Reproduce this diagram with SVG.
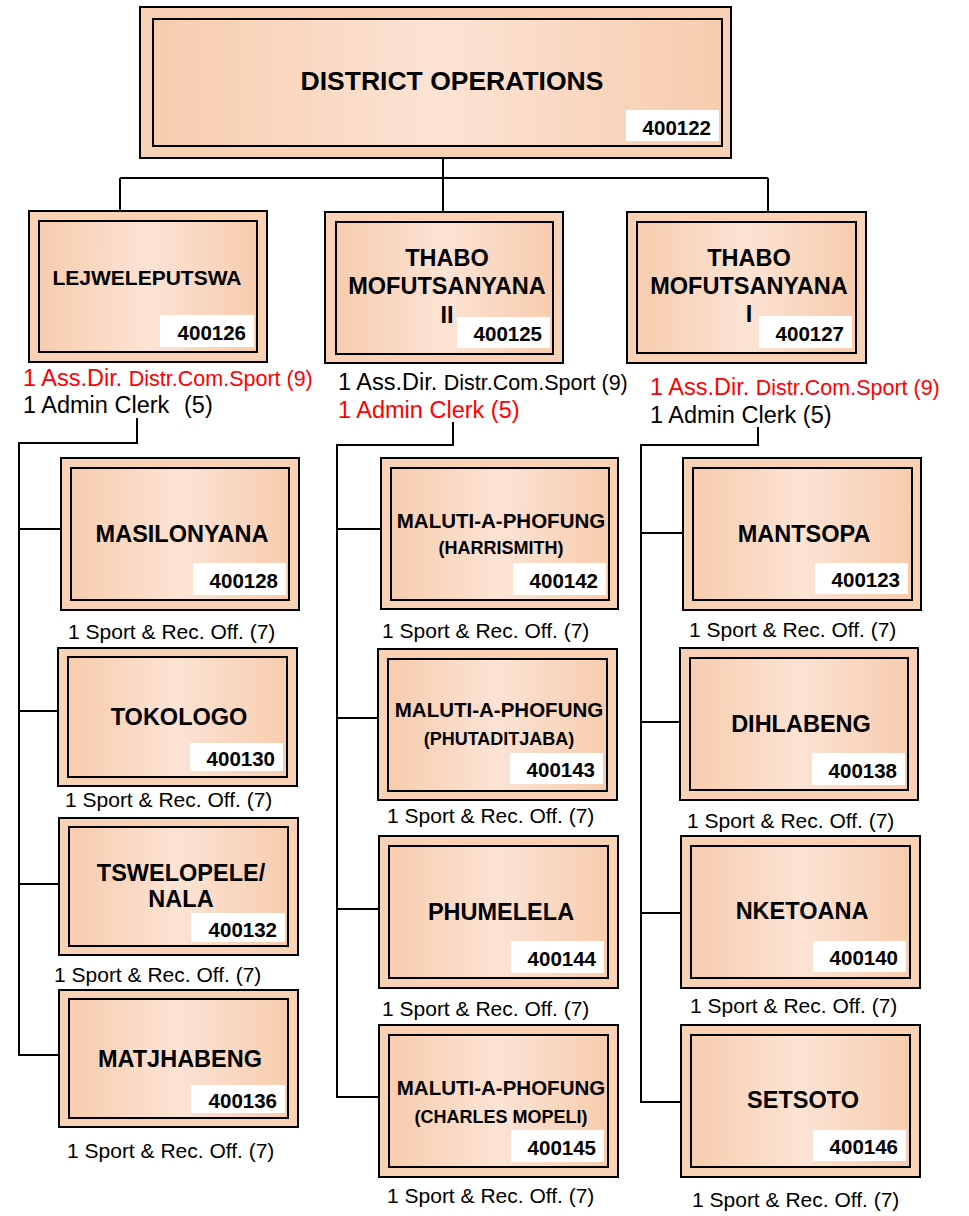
<svg xmlns="http://www.w3.org/2000/svg" width="969" height="1216" viewBox="0 0 969 1216">
<defs>
<linearGradient id="g" x1="0" y1="0" x2="1" y2="0">
<stop offset="0" stop-color="#F7CCAE"/>
<stop offset="0.5" stop-color="#FCE3D4"/>
<stop offset="1" stop-color="#F7CCAE"/>
</linearGradient>
<style>
.o{fill:#F9D2B6;stroke:#000;stroke-width:2}
.i{fill:url(#g);stroke:#000;stroke-width:2}
.c{fill:#fff}
text{font-family:"Liberation Sans",Arial,sans-serif;fill:#000}
.l{font-weight:bold;text-anchor:middle;font-size:23.5px}
.l2{font-weight:bold;text-anchor:middle;font-size:21px}
.l3{font-weight:bold;text-anchor:middle;font-size:23.5px}
.m{font-weight:bold;text-anchor:middle;font-size:20.5px}
.s{font-weight:bold;text-anchor:middle;font-size:18px}
.k{font-weight:bold;text-anchor:end;font-size:20.5px}
.t{font-size:21px}
.a{font-size:23.5px}
.r{fill:#FF0000}
.sm{font-size:21.5px}
.cn{fill:none;stroke:#000;stroke-width:2}
</style>
</defs>
<g id="connectors" class="cn">
<path d="M443,158 V178 M120,178 H768 M120,178 V211 M443,178 V212 M768,178 V212"/>
<path d="M137,418 V443 H19 V1055 H59 M19,529 H61 M19,711 H58 M19,884 H59"/>
<path d="M453,422 V445 H337 V1097 H379 M337,529 H381 M337,718 H378 M337,909 H379"/>
<path d="M758,427 V445 H641 V1102 H681 M641,533 H683 M641,722 H680 M641,913 H681"/>
</g>
<g id="n400122">
<rect class="o" x="140" y="7" width="591" height="151"/>
<rect class="i" x="153" y="19" width="569" height="127"/>
<rect class="c" x="626" y="110" width="93" height="31"/>
<text class="l" x="452" y="90" style="font-size:26.5px">DISTRICT OPERATIONS</text>
<text class="k" x="711" y="135">400122</text>
</g>
<g id="n400126">
<rect class="o" x="29" y="211" width="238" height="151"/>
<rect class="i" x="39" y="221" width="218" height="131"/>
<rect class="c" x="160" y="315" width="94" height="32"/>
<text class="l2" x="147" y="285">LEJWELEPUTSWA</text>
<text class="k" x="246" y="340">400126</text>
<text class="a r" x="23" y="386">1 Ass.Dir. <tspan class="sm">Distr.Com.Sport (9)</tspan></text>
<text class="a" x="23" y="413">1 Admin Clerk<tspan x="184">(5)</tspan></text>
</g>
<g id="n400125">
<rect class="o" x="325" y="212" width="238" height="151"/>
<rect class="i" x="336" y="222" width="217" height="132"/>
<rect class="c" x="457" y="317" width="93" height="31"/>
<text class="l3" x="447" y="266">THABO</text>
<text class="l3" x="447" y="294">MOFUTSANYANA</text>
<text class="l3" x="447" y="323">II</text>
<text class="k" x="542" y="341">400125</text>
<text class="a" x="338" y="390">1 Ass.Dir. <tspan class="sm">Distr.Com.Sport (9)</tspan></text>
<text class="a r" x="338" y="418">1 Admin Clerk (5)</text>
</g>
<g id="n400127">
<rect class="o" x="627" y="212" width="239" height="151"/>
<rect class="i" x="637" y="222" width="219" height="131"/>
<rect class="c" x="759" y="316" width="93" height="32"/>
<text class="l3" x="749" y="266">THABO</text>
<text class="l3" x="749" y="294">MOFUTSANYANA</text>
<text class="l3" x="749" y="322">I</text>
<text class="k" x="844" y="341">400127</text>
<text class="a r" x="650" y="395">1 Ass.Dir. <tspan class="sm">Distr.Com.Sport (9)</tspan></text>
<text class="a" x="650" y="423">1 Admin Clerk (5)</text>
</g>
<g id="n400128">
<rect class="o" x="61" y="458" width="238" height="152"/>
<rect class="i" x="71" y="468" width="218" height="132"/>
<rect class="c" x="193" y="563" width="93" height="32"/>
<text class="l" x="182" y="542">MASILONYANA</text>
<text class="k" x="278" y="588">400128</text>
<text class="t" x="68" y="639">1 Sport &amp; Rec. Off. (7)</text>
</g>
<g id="n400130">
<rect class="o" x="58" y="648" width="239" height="138"/>
<rect class="i" x="68" y="657" width="219" height="120"/>
<rect class="c" x="190" y="743" width="93" height="28"/>
<text class="l" x="179" y="725">TOKOLOGO</text>
<text class="k" x="275" y="766">400130</text>
<text class="t" x="65" y="807">1 Sport &amp; Rec. Off. (7)</text>
</g>
<g id="n400132">
<rect class="o" x="59" y="818" width="239" height="137"/>
<rect class="i" x="69" y="827" width="219" height="119"/>
<rect class="c" x="191" y="913" width="94" height="29"/>
<text class="l" x="181" y="881">TSWELOPELE/</text>
<text class="l" x="181" y="907">NALA</text>
<text class="k" x="277" y="937">400132</text>
<text class="t" x="54" y="982">1 Sport &amp; Rec. Off. (7)</text>
</g>
<g id="n400136">
<rect class="o" x="59" y="990" width="239" height="137"/>
<rect class="i" x="69" y="999" width="219" height="119"/>
<rect class="c" x="191" y="1085" width="94" height="28"/>
<text class="l" x="180" y="1067">MATJHABENG</text>
<text class="k" x="277" y="1108">400136</text>
<text class="t" x="67" y="1158">1 Sport &amp; Rec. Off. (7)</text>
</g>
<g id="n400142">
<rect class="o" x="381" y="458" width="237" height="151"/>
<rect class="i" x="391" y="468" width="218" height="132"/>
<rect class="c" x="513" y="563" width="93" height="32"/>
<text class="m" x="501" y="528">MALUTI-A-PHOFUNG</text>
<text class="s" x="501" y="554">(HARRISMITH)</text>
<text class="k" x="598" y="588">400142</text>
<text class="t" x="382" y="638">1 Sport &amp; Rec. Off. (7)</text>
</g>
<g id="n400143">
<rect class="o" x="378" y="649" width="239" height="151"/>
<rect class="i" x="388" y="659" width="219" height="132"/>
<rect class="c" x="510" y="753" width="93" height="31"/>
<text class="m" x="499" y="717">MALUTI-A-PHOFUNG</text>
<text class="s" x="499" y="745">(PHUTADITJABA)</text>
<text class="k" x="595" y="777">400143</text>
<text class="t" x="387" y="823">1 Sport &amp; Rec. Off. (7)</text>
</g>
<g id="n400144">
<rect class="o" x="379" y="836" width="239" height="152"/>
<rect class="i" x="389" y="846" width="219" height="132"/>
<rect class="c" x="511" y="941" width="93" height="32"/>
<text class="l" x="501" y="920">PHUMELELA</text>
<text class="k" x="596" y="966">400144</text>
<text class="t" x="382" y="1016">1 Sport &amp; Rec. Off. (7)</text>
</g>
<g id="n400145">
<rect class="o" x="379" y="1025" width="239" height="152"/>
<rect class="i" x="389" y="1035" width="219" height="132"/>
<rect class="c" x="511" y="1130" width="93" height="32"/>
<text class="m" x="501" y="1095">MALUTI-A-PHOFUNG</text>
<text class="s" x="501" y="1123">(CHARLES MOPELI)</text>
<text class="k" x="596" y="1155">400145</text>
<text class="t" x="387" y="1203">1 Sport &amp; Rec. Off. (7)</text>
</g>
<g id="n400123">
<rect class="o" x="683" y="458" width="238" height="152"/>
<rect class="i" x="693" y="468" width="219" height="132"/>
<rect class="c" x="815" y="563" width="93" height="31"/>
<text class="l" x="804" y="542">MANTSOPA</text>
<text class="k" x="900" y="587">400123</text>
<text class="t" x="689" y="637">1 Sport &amp; Rec. Off. (7)</text>
</g>
<g id="n400138">
<rect class="o" x="680" y="648" width="238" height="152"/>
<rect class="i" x="690" y="658" width="218" height="132"/>
<rect class="c" x="812" y="753" width="93" height="32"/>
<text class="l" x="801" y="732">DIHLABENG</text>
<text class="k" x="897" y="778">400138</text>
<text class="t" x="687" y="828">1 Sport &amp; Rec. Off. (7)</text>
</g>
<g id="n400140">
<rect class="o" x="681" y="836" width="239" height="152"/>
<rect class="i" x="691" y="846" width="219" height="132"/>
<rect class="c" x="813" y="941" width="93" height="31"/>
<text class="l" x="802" y="919">NKETOANA</text>
<text class="k" x="898" y="965">400140</text>
<text class="t" x="690" y="1013">1 Sport &amp; Rec. Off. (7)</text>
</g>
<g id="n400146">
<rect class="o" x="681" y="1025" width="239" height="152"/>
<rect class="i" x="691" y="1035" width="219" height="132"/>
<rect class="c" x="813" y="1130" width="93" height="31"/>
<text class="l" x="803" y="1108">SETSOTO</text>
<text class="k" x="898" y="1154">400146</text>
<text class="t" x="692" y="1207">1 Sport &amp; Rec. Off. (7)</text>
</g>
</svg>
